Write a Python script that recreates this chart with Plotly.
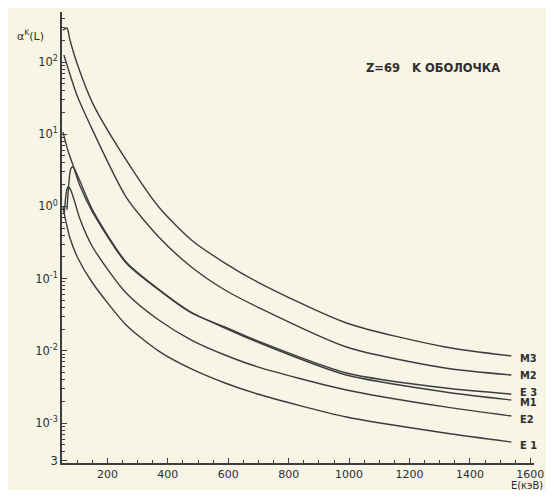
import math
import plotly.graph_objects as go

# Energies (keV) and K-shell conversion coefficients
M3_E = [53, 66, 76, 99, 151, 262, 370, 478, 589, 697, 991, 1318, 1537]
M3_V = [277, 296, 202, 97, 27, 4.4, 0.98, 0.343, 0.164, 0.0897, 0.0243, 0.0113, 0.0085]

M2_E = [56, 99, 151, 262, 370, 478, 589, 697, 991, 1318, 1537]
M2_V = [125, 34.9, 11.4, 1.35, 0.377, 0.145, 0.0695, 0.0404, 0.0113, 0.00578, 0.00462]

E3_E = [53, 69, 86, 108, 151, 262, 370, 478, 589, 697, 991, 1318, 1537]
E3_V = [10.7, 6.0, 3.74, 1.98, 0.835, 0.164, 0.0695, 0.0334, 0.0214, 0.0137, 0.00493, 0.00305, 0.00252]

M1_E = [66, 72, 77, 82, 88, 96, 110, 151, 262, 370, 478, 589, 697, 991, 1318, 1537]
M1_V = [0.9, 2.0, 3.1, 3.5, 3.45, 3.0, 2.2, 0.89, 0.170, 0.071, 0.034, 0.0207, 0.0132, 0.00462, 0.00269, 0.00208]

E2_E = [57, 62, 66, 70, 75, 82, 92, 108, 151, 262, 370, 478, 589, 697, 991, 1318, 1537]
E2_V = [0.8, 1.35, 1.72, 1.86, 1.80, 1.55, 1.15, 0.69, 0.274, 0.0632, 0.0267, 0.0141, 0.00875, 0.0060, 0.00287, 0.00167, 0.00125]

E1_E = [53, 63, 76, 102, 151, 262, 370, 478, 589, 697, 991, 1318, 1537]
E1_V = [0.98, 0.61, 0.365, 0.193, 0.0869, 0.0228, 0.0099, 0.0056, 0.00358, 0.00252, 0.00121, 0.000727, 0.000545]

series = [("M3", M3_E, M3_V), ("M2", M2_E, M2_V), ("E 3", E3_E, E3_V),
          ("M1", M1_E, M1_V), ("E2", E2_E, E2_V), ("E 1", E1_E, E1_V)]

# curve labels at the right end
label_names = ["M3", "M2", "E 3", "M1", "E2", "E 1"]
label_vals = [0.0079, 0.00448, 0.00263, 0.00193, 0.00113, 0.000495]
label_E = 1560

y_tickvals = [3e-4, 1e-3, 1e-2, 1e-1, 1, 10, 100]
y_ticktext = ["3", "10<sup>-3</sup>", "10<sup>-2</sup>", "10<sup>-1</sup>",
              "10<sup>0</sup>", "10<sup>1</sup>", "10<sup>2</sup>"]
x_tickvals = [200, 400, 600, 800, 1000, 1200, 1400, 1600]

ink = "#3d3d3d"
txt = "#2e2e2e"
bg = "#f7f5e6"

fig = go.Figure()
for name, ex, vals in series:
    fig.add_trace(go.Scatter(x=ex, y=vals, mode="lines", name=name,
                             line=dict(color=ink, width=1.4, shape="spline", smoothing=0.7),
                             showlegend=False, hoverinfo="skip"))

for nm, v in zip(label_names, label_vals):
    fig.add_annotation(x=label_E, y=math.log10(v), xref="x", yref="y",
                       yanchor="middle", xanchor="left",
                       text="<b>" + nm + "</b>", showarrow=False,
                       font=dict(family="DejaVu Sans Condensed, DejaVu Sans", size=11, color=txt))

fig.add_annotation(x=0.64, y=0.876, xref="paper", yref="paper", xanchor="left", yanchor="middle",
                   text="<b>Z=69   K ОБОЛОЧКА</b>", showarrow=False,
                   font=dict(family="DejaVu Sans", size=11.5, color=txt))
fig.add_annotation(x=-0.10, y=0.948, xref="paper", yref="paper", xanchor="left", yanchor="middle",
                   text="α<sup>K</sup>(L)", showarrow=False,
                   font=dict(family="DejaVu Sans", size=11, color=txt))
fig.add_annotation(x=1.024, y=-0.05, xref="paper", yref="paper", xanchor="right", yanchor="middle",
                   text="E(кэВ)", showarrow=False,
                   font=dict(family="DejaVu Sans Condensed, DejaVu Sans", size=11, color=txt))

fig.update_xaxes(range=[49.7, 1612], tickvals=x_tickvals, ticks="inside", ticklen=5,
                 tickwidth=1.3, tickcolor=ink, showline=True, linecolor=ink, linewidth=1.6,
                 showgrid=False, zeroline=False, automargin=False, ticklabeloverflow="allow",
                 minor=dict(ticks="inside", ticklen=3, dtick=50, tick0=0, tickcolor=ink, showgrid=False),
                 tickfont=dict(family="DejaVu Sans", size=11, color=txt))
fig.update_yaxes(type="log", range=[-3.554, 2.693], tickvals=y_tickvals, ticktext=y_ticktext,
                 ticks="inside", ticklen=5, tickwidth=1.3, tickcolor=ink,
                 showline=True, linecolor=ink, linewidth=1.6, showgrid=False, zeroline=False,
                 automargin=False, ticklabeloverflow="allow",
                 minor=dict(ticks="inside", ticklen=3, dtick="D1", tickcolor=ink, showgrid=False),
                 tickfont=dict(family="DejaVu Sans", size=11.5, color=txt))

# the page body has an 8px margin, so the figure is offset and kept small enough not to scroll
fig.update_layout(width=538, height=482, margin=dict(l=54, r=12, t=4, b=27),
                  paper_bgcolor=bg, plot_bgcolor=bg, showlegend=False)

fig.write_html("out.html")
